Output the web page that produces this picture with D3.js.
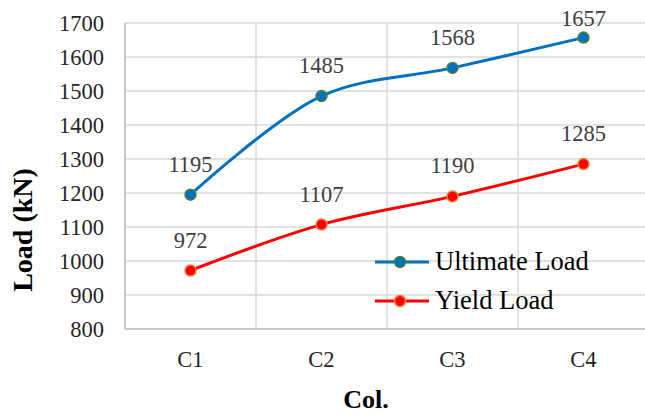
<!DOCTYPE html>
<html><head><meta charset="utf-8">
<script src="https://cdn.jsdelivr.net/npm/d3@7"></script>
<style>html,body{margin:0;padding:0;background:#fff;overflow:hidden}</style>
</head><body>
<svg id="chart" width="645" height="415"></svg>
<script>
const categories = ["C1", "C2", "C3", "C4"];
const ultimateLoad = [1195, 1485, 1568, 1657];
const yieldLoad = [972, 1107, 1190, 1285];
const yTicks = [800, 900, 1000, 1100, 1200, 1300, 1400, 1500, 1600, 1700];
const seriesNames = ["Ultimate Load", "Yield Load"];

(function () {
const svg = d3.select("#chart");
svg.append("rect").attr("width", 645).attr("height", 415).attr("fill", "#fff");

const pl = 125, pr = 649, pt = 23, pb = 329;
const x = d3.scaleBand().domain(categories).range([pl, pr]);
const y = d3.scaleLinear().domain([800, 1700]).range([pb, pt]);
const font = "'Liberation Serif','Times New Roman',serif";
const grid = "#d9d9d9";

svg.append("g").selectAll("line").data(yTicks).join("line")
  .attr("x1", pl).attr("x2", pr)
  .attr("y1", d => y(d)).attr("y2", d => y(d))
  .attr("stroke", grid).attr("stroke-width", 1.5);
const edges = categories.map(c => x(c)).concat([x(categories[categories.length - 1]) + x.bandwidth()]);
svg.append("g").selectAll("line").data(edges).join("line")
  .attr("x1", d => d).attr("x2", d => d)
  .attr("y1", pt).attr("y2", pb)
  .attr("stroke", grid).attr("stroke-width", 1.5);
svg.append("line").attr("x1", pl).attr("x2", pl).attr("y1", pt).attr("y2", pb)
  .attr("stroke", "#bfbfbf").attr("stroke-width", 1.5);
svg.append("line").attr("x1", pl).attr("x2", pr).attr("y1", pb).attr("y2", pb)
  .attr("stroke", "#bfbfbf").attr("stroke-width", 1.5);

svg.append("g").selectAll("text").data(yTicks).join("text")
  .attr("x", 104).attr("y", d => y(d)).attr("dy", "0.35em")
  .attr("text-anchor", "end").attr("font-family", font).attr("font-size", 22.5)
  .attr("fill", "#262626").text(d => d);
svg.append("g").selectAll("text").data(categories).join("text")
  .attr("x", d => x(d) + x.bandwidth() / 2).attr("y", 367)
  .attr("text-anchor", "middle").attr("font-family", font).attr("font-size", 22.5)
  .attr("fill", "#262626").text(d => d);

svg.append("text").attr("x", 366).attr("y", 408).attr("text-anchor", "middle")
  .attr("font-family", font).attr("font-size", 26).attr("font-weight", "bold")
  .attr("fill", "#000").text("Col.");
svg.append("text").attr("transform", "translate(32,230) rotate(-90)").attr("text-anchor", "middle")
  .attr("font-family", font).attr("font-size", 28).attr("font-weight", "bold")
  .attr("fill", "#000").text("Load (kN)");

const series = [
  { name: seriesNames[0], values: ultimateLoad, color: "#0070C0", stroke: "#548235" },
  { name: seriesNames[1], values: yieldLoad, color: "#FF0000", stroke: "#ED7D31" }
];
const line = d3.line()
  .x((d, i) => x(categories[i]) + x.bandwidth() / 2)
  .y(d => y(d))
  .curve(d3.curveCatmullRom.alpha(0.5));

series.forEach(s => {
  svg.append("path").datum(s.values).attr("d", line)
    .attr("fill", "none").attr("stroke", s.color).attr("stroke-width", 3);
  svg.append("g").selectAll("circle").data(s.values).join("circle")
    .attr("cx", (d, i) => x(categories[i]) + x.bandwidth() / 2)
    .attr("cy", d => y(d)).attr("r", 5.5)
    .attr("fill", s.color).attr("stroke", s.stroke).attr("stroke-width", 1.5);
  svg.append("g").selectAll("text").data(s.values).join("text")
    .attr("x", (d, i) => x(categories[i]) + x.bandwidth() / 2)
    .attr("y", d => Math.max(y(d) - 23, 26))
    .attr("text-anchor", "middle").attr("font-family", font).attr("font-size", 22.5)
    .attr("fill", "#404040").text(d => d);
});

const lg = svg.append("g").selectAll("g").data(series).join("g")
  .attr("transform", (d, i) => `translate(375,${262 + i * 39})`);
lg.append("line").attr("x1", 0).attr("x2", 54).attr("y1", 0).attr("y2", 0)
  .attr("stroke", d => d.color).attr("stroke-width", 3);
lg.append("circle").attr("cx", 25).attr("cy", 0).attr("r", 5.5)
  .attr("fill", d => d.color).attr("stroke", d => d.stroke).attr("stroke-width", 1.5);
lg.append("text").attr("x", 60).attr("y", 8)
  .attr("font-family", font).attr("font-size", 26.5).attr("fill", "#000")
  .text(d => d.name);
})();
</script>
</body></html>
